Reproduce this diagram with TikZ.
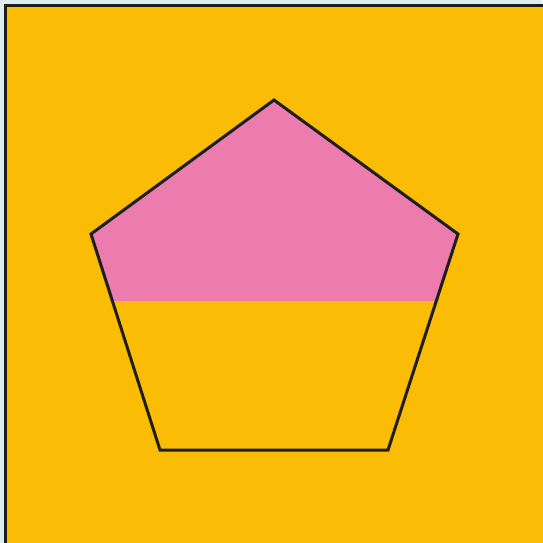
\documentclass[tikz,border=0pt]{standalone}
\definecolor{bgc}{HTML}{DCEEF2}
\definecolor{orng}{HTML}{FBBC05}
\definecolor{pnk}{HTML}{EC7BAE}
\definecolor{edge}{HTML}{1E1E1E}
\begin{document}
\begin{tikzpicture}[x=1pt,y=-1pt,
  outline/.style={draw=edge,line width=3pt,line join=miter}]
\useasboundingbox (0,0) rectangle (542,543);
\fill[bgc] (0,0) rectangle (542,543);
\draw[edge,fill=orng,line width=3pt] (5.5,5.5) rectangle (545,546);
\coordinate (T) at (274,100);
\coordinate (L) at (91,234);
\coordinate (R) at (458,234);
\coordinate (BR) at (388,450);
\coordinate (BL) at (160,450);
\begin{scope}
\clip (0,0) rectangle (542,300);
\fill[pnk] (T) -- (R) -- (BR) -- (BL) -- (L) -- cycle;
\end{scope}
\draw[outline] (T) -- (R) -- (BR) -- (BL) -- (L) -- cycle;
\end{tikzpicture}
\end{document}
